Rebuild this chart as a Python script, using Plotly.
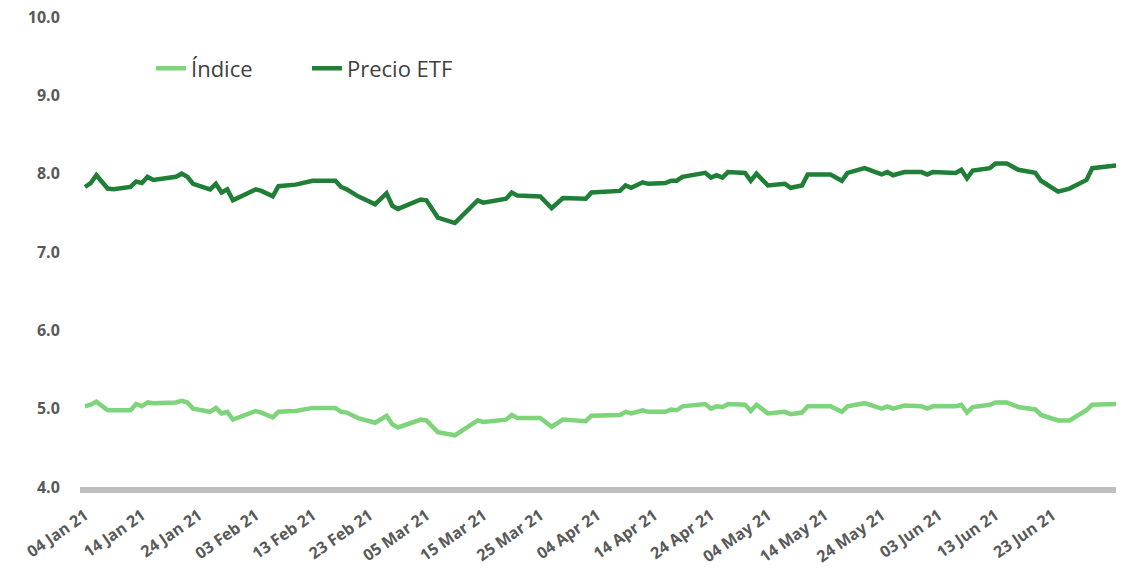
import plotly.graph_objects as go

dates = [
    "2021-01-04", "2021-01-05", "2021-01-06", "2021-01-08", "2021-01-09", "2021-01-12",
    "2021-01-13", "2021-01-14", "2021-01-15", "2021-01-16", "2021-01-20", "2021-01-21",
    "2021-01-22", "2021-01-23", "2021-01-26", "2021-01-27", "2021-01-28", "2021-01-29",
    "2021-01-30", "2021-02-03", "2021-02-04", "2021-02-06", "2021-02-07", "2021-02-10",
    "2021-02-13", "2021-02-17", "2021-02-18", "2021-02-19", "2021-02-21", "2021-02-24",
    "2021-02-26", "2021-02-27", "2021-02-28", "2021-03-04", "2021-03-05", "2021-03-06",
    "2021-03-07", "2021-03-10", "2021-03-14", "2021-03-15", "2021-03-19", "2021-03-20",
    "2021-03-21", "2021-03-25", "2021-03-27", "2021-03-29", "2021-04-02", "2021-04-03",
    "2021-04-08", "2021-04-09", "2021-04-10", "2021-04-12", "2021-04-13", "2021-04-16",
    "2021-04-17", "2021-04-18", "2021-04-19", "2021-04-23", "2021-04-24", "2021-04-25",
    "2021-04-26", "2021-04-27", "2021-04-30", "2021-05-01", "2021-05-02", "2021-05-04",
    "2021-05-07", "2021-05-08", "2021-05-10", "2021-05-11", "2021-05-15", "2021-05-17",
    "2021-05-18", "2021-05-21", "2021-05-24", "2021-05-25", "2021-05-26", "2021-05-28",
    "2021-05-31", "2021-06-01", "2021-06-02", "2021-06-06", "2021-06-07", "2021-06-08",
    "2021-06-09", "2021-06-12", "2021-06-13", "2021-06-15", "2021-06-17", "2021-06-20",
    "2021-06-21", "2021-06-24", "2021-06-26", "2021-06-29", "2021-06-30", "2021-07-05",
]

precio_etf = [
    7.83, 7.88, 7.98, 7.81, 7.80, 7.83, 7.90, 7.88, 7.96, 7.92, 7.96, 8.00,
    7.96, 7.87, 7.80, 7.87, 7.76, 7.80, 7.66, 7.80, 7.78, 7.71, 7.84, 7.86,
    7.91, 7.91, 7.83, 7.80, 7.71, 7.61, 7.75, 7.59, 7.55, 7.67, 7.66, 7.55,
    7.44, 7.37, 7.66, 7.63, 7.68, 7.76, 7.72, 7.71, 7.56, 7.69, 7.68, 7.76,
    7.78, 7.85, 7.82, 7.89, 7.87, 7.88, 7.91, 7.91, 7.96, 8.01, 7.95, 7.98,
    7.95, 8.02, 8.01, 7.91, 8.00, 7.85, 7.87, 7.82, 7.85, 7.99, 7.99, 7.91,
    8.01, 8.07, 7.99, 8.02, 7.98, 8.02, 8.02, 7.99, 8.02, 8.01, 8.05, 7.94,
    8.04, 8.07, 8.13, 8.13, 8.05, 8.01, 7.91, 7.77, 7.81, 7.92, 8.07, 8.11,
]

indice = [
    5.03, 5.05, 5.09, 4.98, 4.98, 4.98, 5.06, 5.03, 5.08, 5.07, 5.08, 5.10,
    5.08, 5.00, 4.96, 5.01, 4.94, 4.96, 4.86, 4.97, 4.95, 4.89, 4.96, 4.97,
    5.01, 5.01, 4.96, 4.95, 4.88, 4.82, 4.91, 4.80, 4.76, 4.86, 4.85, 4.78,
    4.70, 4.66, 4.85, 4.83, 4.86, 4.92, 4.88, 4.88, 4.77, 4.86, 4.84, 4.91,
    4.92, 4.96, 4.94, 4.98, 4.96, 4.96, 4.99, 4.98, 5.03, 5.06, 5.00, 5.03,
    5.02, 5.06, 5.05, 4.97, 5.05, 4.94, 4.96, 4.93, 4.95, 5.03, 5.03, 4.96,
    5.03, 5.07, 5.00, 5.03, 5.00, 5.04, 5.03, 5.00, 5.03, 5.03, 5.05, 4.95,
    5.02, 5.05, 5.08, 5.08, 5.02, 4.99, 4.92, 4.85, 4.85, 4.98, 5.05, 5.06,
]

series_names = ["Índice", "Precio ETF"]
y_ticks = [4.0, 5.0, 6.0, 7.0, 8.0, 9.0, 10.0]
tick_dates = [
    "2021-01-04", "2021-01-14", "2021-01-24", "2021-02-03", "2021-02-13", "2021-02-23",
    "2021-03-05", "2021-03-15", "2021-03-25", "2021-04-04", "2021-04-14", "2021-04-24",
    "2021-05-04", "2021-05-14", "2021-05-24", "2021-06-03", "2021-06-13", "2021-06-23",
]

fig = go.Figure()
fig.add_trace(go.Scatter(x=dates, y=indice, name=series_names[0], mode="lines",
                         line=dict(color="#7ED47A", width=4.5)))
fig.add_trace(go.Scatter(x=dates, y=precio_etf, name=series_names[1], mode="lines",
                         line=dict(color="#1F7F36", width=4.5)))

tick_font = dict(family="Open Sans, Lato, sans-serif", size=16, color="#595959", weight="bold")

fig.update_layout(
    width=1124, height=569,
    margin=dict(l=72, r=8, t=9, b=90, autoexpand=False),
    paper_bgcolor="white", plot_bgcolor="white",
    showlegend=True,
    legend=dict(orientation="h", x=0.068, y=0.935, xanchor="left", yanchor="top",
                font=dict(family="Open Sans, Lato, sans-serif", size=22, color="#404040"),
                itemwidth=30, entrywidth=111, bgcolor="rgba(0,0,0,0)",
                traceorder="normal"),
    xaxis=dict(
        type="date",
        range=["2021-01-03 03:00", "2021-07-05 14:00"],
        tickvals=tick_dates,
        tickformat="%d %b %y", tickangle=-35,
        tickfont=tick_font,
        showgrid=False, zeroline=False,
        showline=True, linecolor="#BFBFBF", linewidth=6,
        ticks="outside", ticklen=7, tickcolor="rgba(0,0,0,0)",
        ticklabeloverflow="allow", automargin=False,
    ),
    yaxis=dict(
        range=[4, 10], tickvals=y_ticks, tickformat=".1f",
        tickfont=tick_font,
        showgrid=False, zeroline=False, showline=False,
        ticks="outside", ticklen=16, tickcolor="rgba(0,0,0,0)",
        ticklabeloverflow="allow", automargin=False,
    ),
)

fig.write_html("out.html")
